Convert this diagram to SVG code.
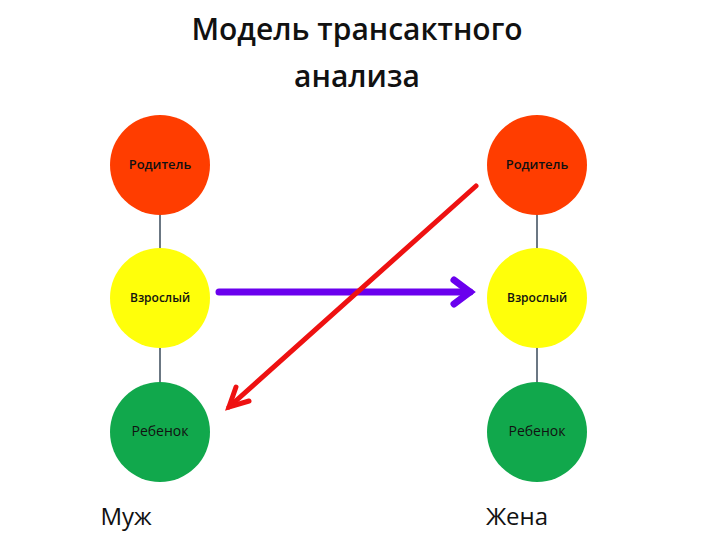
<svg xmlns="http://www.w3.org/2000/svg" width="720" height="540" viewBox="0 0 720 540">
<style>
.t{font-family:"Open Sans","Liberation Sans",sans-serif;fill:#111;text-anchor:middle}
.lnk{stroke:#3a4a5a;stroke-width:1.5}
.title{font-family:"Open Sans","Liberation Sans",sans-serif;font-size:30px;font-weight:600;fill:#111;text-anchor:middle}
</style>
<rect width="720" height="540" fill="#fff"/>
<text class="title" x="357" y="40">Модель трансактного</text>
<text class="title" x="357" y="87">анализа</text>
<g id="connectors">
<line class="lnk" x1="160" y1="214" x2="160" y2="248"/>
<line class="lnk" x1="160" y1="348" x2="160" y2="382"/>
<line class="lnk" x1="537" y1="214" x2="537" y2="248"/>
<line class="lnk" x1="537" y1="348" x2="537" y2="382"/>
<g id="purple-arrow" stroke="#6a00ee" stroke-width="7" fill="none" stroke-linecap="round" stroke-linejoin="miter">
<line x1="219" y1="292" x2="470" y2="292"/>
<polyline points="454,280 470,292 454,304"/>
</g>
<g id="red-arrow" stroke="#ee1111" stroke-width="5" fill="none" stroke-linecap="round">
<line x1="476" y1="186" x2="229" y2="407"/>
<polyline points="236,387 229,407 249,401"/>
</g>
</g>
<g id="p1"><circle cx="160" cy="165" r="50" fill="#ff3d00"/><text class="t" x="160" y="169" font-size="13" font-weight="600">Родитель</text></g>
<g id="a1"><circle cx="160" cy="298" r="50" fill="#ffff0a"/><text class="t" x="160" y="302" font-size="12" font-weight="600">Взрослый</text></g>
<g id="c1"><circle cx="160" cy="432" r="50" fill="#11a84c"/><text class="t" x="160" y="436" font-size="14">Ребенок</text></g>
<g id="p2"><circle cx="537" cy="165" r="50" fill="#ff3d00"/><text class="t" x="537" y="169" font-size="13" font-weight="600">Родитель</text></g>
<g id="a2"><circle cx="537" cy="298" r="50" fill="#ffff0a"/><text class="t" x="537" y="302" font-size="12" font-weight="600">Взрослый</text></g>
<g id="c2"><circle cx="537" cy="432" r="50" fill="#11a84c"/><text class="t" x="537" y="436" font-size="14">Ребенок</text></g>
<text class="t" x="126" y="525" font-size="24" fill="#333">Муж</text>
<text class="t" x="517" y="525" font-size="24" fill="#333">Жена</text>
</svg>
